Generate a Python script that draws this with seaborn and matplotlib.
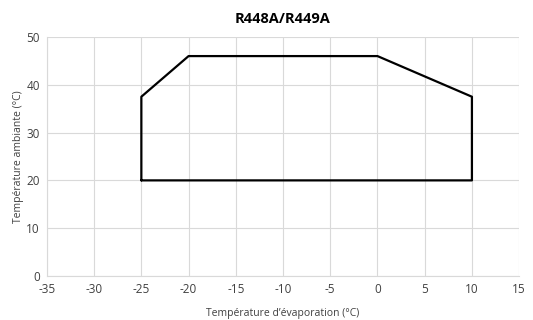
import matplotlib
matplotlib.use("Agg")
import matplotlib.pyplot as plt
import seaborn as sns
import pandas as pd

# envelope corners (evap temp, ambient temp), closed polygon
evap = [-25, -25, -20, 0, 10, 10, -25]
amb = [20, 37.5, 46, 46, 37.5, 20, 20]

xticks = [-35, -30, -25, -20, -15, -10, -5, 0, 5, 10, 15]
yticks = [0, 10, 20, 30, 40, 50]

sns.set_theme(style="whitegrid")
plt.rcParams['font.family'] = ['Open Sans', 'DejaVu Sans']

df = pd.DataFrame({"evap": evap, "amb": amb})

fig = plt.figure(figsize=(5.33, 3.2), dpi=100)
ax = fig.add_axes([0.088, 0.1375, 0.886, 0.747])
sns.lineplot(data=df, x="evap", y="amb", sort=False, estimator=None,
             color="black", linewidth=1.6, ax=ax)

ax.set_xlim(-35, 15)
ax.set_ylim(0, 50)
ax.set_xticks(xticks)
ax.set_yticks(yticks)
ax.set_xticklabels([str(t) for t in xticks], fontsize=8.5, color="#404040")
ax.set_yticklabels([str(t) for t in yticks], fontsize=8.5, color="#404040")
ax.tick_params(axis="both", length=0, pad=5)
ax.grid(True, color="#d9d9d9", linewidth=0.8)
for side in ["top", "right"]:
    ax.spines[side].set_visible(False)
for side in ["left", "bottom"]:
    ax.spines[side].set_color("#d9d9d9")
    ax.spines[side].set_linewidth(0.8)

ax.set_xlabel("Température d’évaporation (°C)", fontsize=7.5, color="#404040", labelpad=9)
ax.set_ylabel("Température ambiante (°C)", fontsize=7.5, color="#404040", labelpad=2)
ax.set_title("R448A/R449A", fontsize=10.5, fontweight="bold", color="black", pad=10)

fig.savefig("out.png", dpi=100, facecolor="white")
